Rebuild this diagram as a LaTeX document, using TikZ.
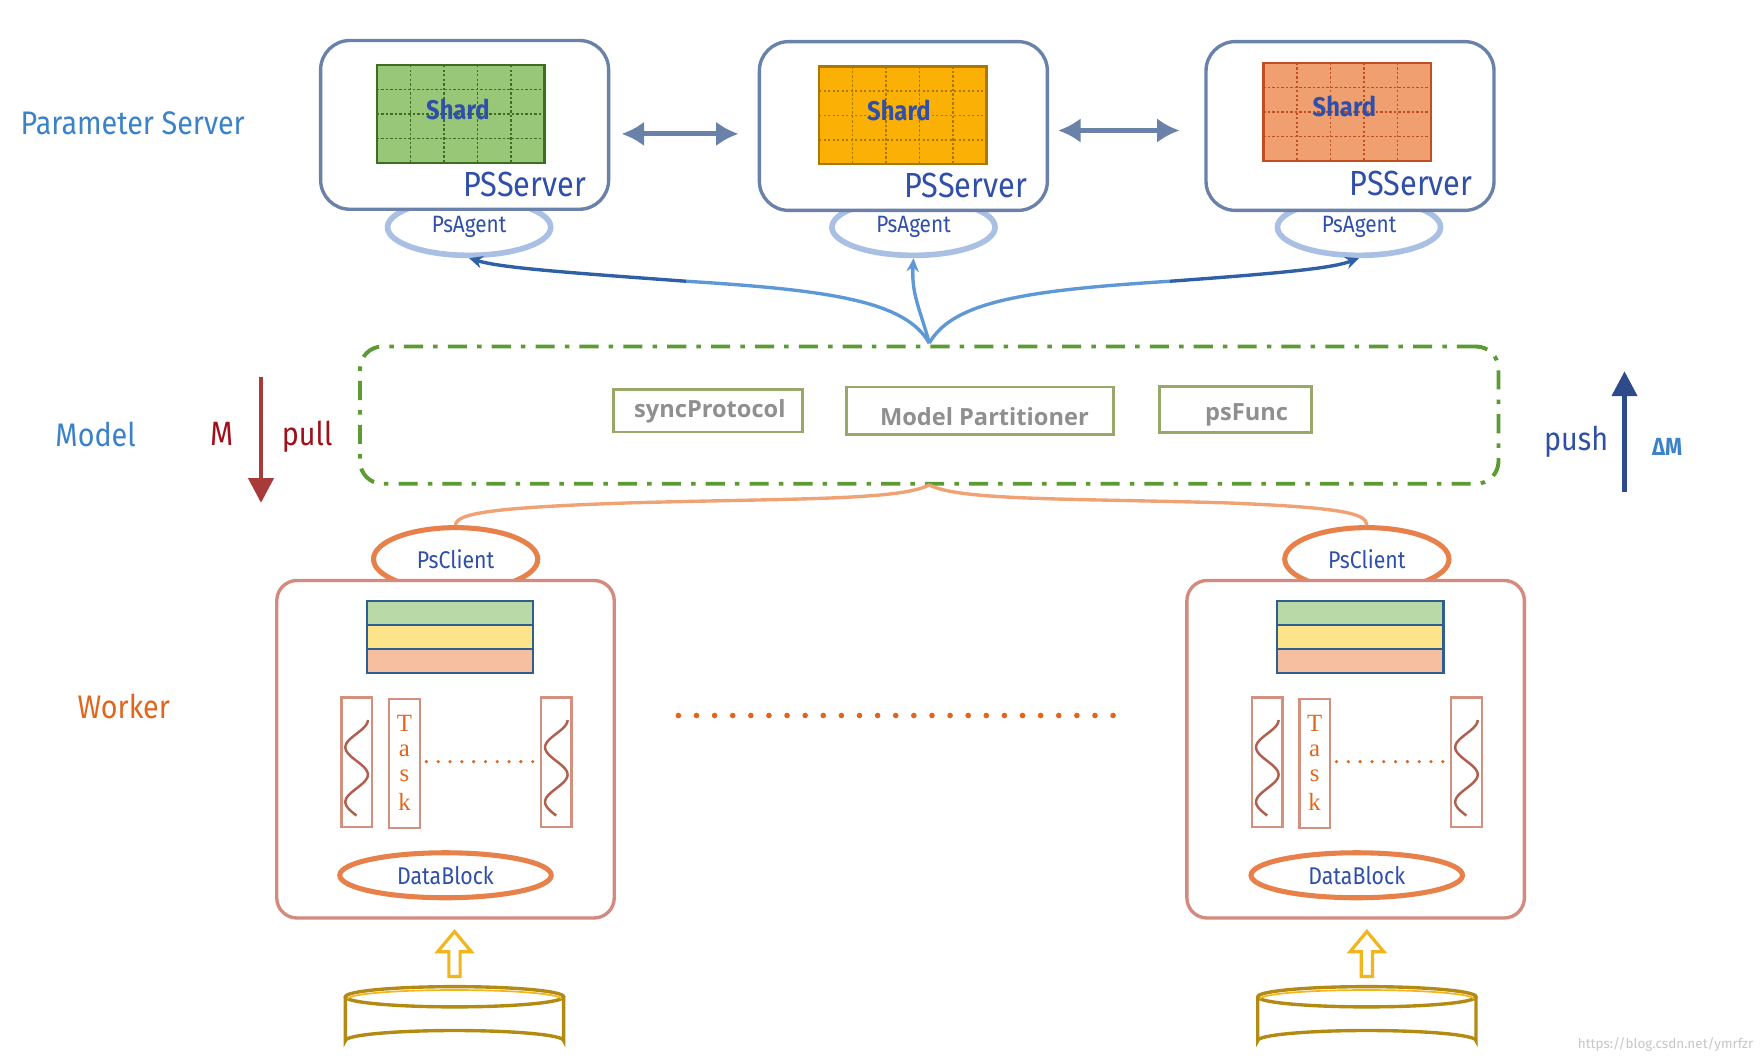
\documentclass[tikz,border=0pt]{standalone}
\usepackage{fontspec}
\setmainfont{Fira Sans}
\newfontfamily\hand[FakeStretch=0.88]{Fira Sans}
\newfontfamily\gb{Open Sans}
\newfontfamily\srf{Liberation Serif}
\usetikzlibrary{arrows.meta,shapes.geometric}
\definecolor{psblue}{HTML}{2F4FA8}
\definecolor{lblue}{HTML}{3B82C8}
\definecolor{boxline}{HTML}{6A82AA}
\definecolor{agentc}{HTML}{A9BFE3}
\definecolor{arrlight}{HTML}{5F98D6}
\definecolor{arrdark}{HTML}{2F5FA4}
\definecolor{modgreen}{HTML}{5C9B34}
\definecolor{innerc}{HTML}{98A86A}
\definecolor{graytxt}{HTML}{8F8F8F}
\definecolor{mred}{HTML}{A0101C}
\definecolor{pullc}{HTML}{A83A3A}
\definecolor{pushc}{HTML}{2D4A8A}
\definecolor{curveo}{HTML}{F0A274}
\definecolor{clientc}{HTML}{E8804A}
\definecolor{workc}{HTML}{D48A7E}
\definecolor{barline}{HTML}{2F5F8F}
\definecolor{barg}{HTML}{B9D9A6}
\definecolor{bary}{HTML}{FDE38A}
\definecolor{baro}{HTML}{F6C0A0}
\definecolor{thrc}{HTML}{D4907E}
\definecolor{wavec}{HTML}{B0604E}
\definecolor{orangetxt}{HTML}{E0661E}
\definecolor{holc}{HTML}{F2B51C}
\definecolor{cylc}{HTML}{B38B12}
\definecolor{sh1}{HTML}{97C777}
\definecolor{sh1b}{HTML}{3E6E22}
\definecolor{sh2}{HTML}{FBB005}
\definecolor{sh2b}{HTML}{A87800}
\definecolor{sh3}{HTML}{F0A070}
\definecolor{sh3b}{HTML}{C04E1E}
\begin{document}
\begin{tikzpicture}[x=1pt,y=-1pt,
  psbox/.style={draw=boxline,line width=3pt,fill=white,rounded corners=26pt,minimum width=256pt,minimum height=150pt},
  agent/.style={ellipse,draw=agentc,line width=5pt,minimum width=145pt,minimum height=50pt,text=psblue,font=\hand\fontsize{21}{24}\selectfont,inner sep=0pt},
  client/.style={ellipse,draw=clientc,line width=4.5pt,minimum width=146pt,minimum height=56pt,text=psblue,font=\hand\fontsize{21.5}{24}\selectfont,inner sep=0pt},
  datab/.style={ellipse,draw=clientc,line width=4.5pt,minimum width=188pt,minimum height=40pt,text=psblue,font=\hand\fontsize{21.5}{24}\selectfont,inner sep=0pt},
  workbox/.style={draw=workc,line width=3pt,fill=white,rounded corners=18pt,minimum width=300pt,minimum height=300pt},
  innerbox/.style={draw=innerc,line width=2.5pt,fill=white},
  graylbl/.style={text=graytxt,font=\gb\bfseries\fontsize{21}{24}\selectfont},
  side/.style={font=\hand\fontsize{29}{34}\selectfont},
  psname/.style={text=psblue,font=\hand\fontsize{31}{36}\selectfont,anchor=east,inner sep=0pt},
  shardtxt/.style={text=psblue,font=\hand\bfseries\fontsize{24}{28}\selectfont},
  dbl/.style={draw=boxline,line width=4.5pt,{Latex[length=20pt,width=22pt]}-{Latex[length=20pt,width=22pt]}},
  upc/.style={-{Stealth[length=12pt,width=11pt]},line width=3pt},
  ocurve/.style={draw=curveo,line width=3pt},
  thr/.style={draw=thrc,line width=2pt,fill=white,minimum width=27pt,minimum height=115pt,inner sep=0pt},
  wave/.style={draw=wavec,line width=2.2pt},
  bar/.style={draw=barline,line width=2pt,minimum width=148pt,minimum height=21.3pt,inner sep=0pt},
  holarrow/.style={draw=holc,line width=2.8pt,fill=white,line join=miter},
  cyl/.style={draw=cylc,line width=3pt}
]
\useasboundingbox[fill=white] (0,0) rectangle (1568,942);

% ---------- labels on left/right ----------
\node[side,text=lblue] (lps) at (118,110) {Parameter Server};
\node[side,text=lblue] (lmodel) at (85,386) {Model};
\node[side,text=orangetxt] (lworker) at (110,628) {Worker};
\node[text=mred,font=\hand\fontsize{30}{34}\selectfont] (lM) at (197,386) {M};
\node[side,text=mred] (lpull) at (273,388) {pull};
\node[side,text=psblue] (lpush) at (1401,393) {push};
\node[text=lblue,font=\hand\bfseries\fontsize{22}{26}\selectfont] (ldm) at (1482,397) {ΔM};
\coordinate (pullA) at (232,335);
\coordinate (pullB) at (232,447);
\draw[draw=pullc,fill=pullc,line width=4pt,-{Triangle[length=22pt,width=22pt]}] (pullA) -- (pullB);
\coordinate (pushA) at (1444,437);
\coordinate (pushB) at (1444,330);
\draw[draw=pushc,fill=pushc,line width=4pt,-{Triangle[length=22pt,width=22pt]}] (pushA) -- (pushB);

% ---------- parameter servers ----------
\node[agent] (ag1) at (417,202) {PsAgent};
\node[agent] (ag2) at (812,202) {PsAgent};
\node[agent] (ag3) at (1208,202) {PsAgent};
\node[psbox] (ps1) at (413,111) {};
\node[psbox] (ps2) at (803,112) {};
\node[psbox] (ps3) at (1200,112) {};

% shards
\foreach \x/\y/\fc/\bc/\nm in {335/58/sh1/sh1b/s1,728/59/sh2/sh2b/s2,1123/56/sh3/sh3b/s3}{
  \draw[fill=\fc,draw=\bc,line width=2.2pt] (\x,\y) rectangle ++(149,87);
  \foreach \i in {1,2,3,4}{\draw[draw=\bc,line width=1.3pt,dash pattern=on 2pt off 2pt] (\x+\i*29.8,\y) -- ++(0,87);}
  \foreach \j in {1,2,3}{\draw[draw=\bc,line width=1.3pt,dash pattern=on 2pt off 2pt] (\x,\y+\j*21.75) -- ++(149,0);}
}
\node[shardtxt] (sh1) at (407,97) {Shard};
\node[shardtxt] (sh2) at (799,98) {Shard};
\node[shardtxt] (sh3) at (1195,95) {Shard};
\node[psname] (pn1) at (521,164) {PSServer};
\node[psname] (pn2) at (913,165) {PSServer};
\node[psname] (pn3) at (1309,163) {PSServer};

\draw[dbl] ([xshift=10pt]ps1.east |- 0,119) coordinate (d1a) -- ([xshift=-17pt]ps2.west |- 0,119) coordinate (d1b);
\draw[dbl] ([xshift=8pt]ps2.east |- 0,116) coordinate (d2a) -- ([xshift=-22pt]ps3.west |- 0,116) coordinate (d2b);

% ---------- model box ----------
\node[draw=modgreen,line width=3.5pt,dash pattern=on 17pt off 9pt on 4pt off 9pt,rounded corners=20pt,minimum width=1012pt,minimum height=122pt] (model) at (826,369) {};
\node[innerbox,minimum width=168pt,minimum height=38pt] (sync) at (629,365) {};
\node[graylbl] at (631,366) {syncProtocol};
\node[innerbox,minimum width=237pt,minimum height=42pt] (mpart) at (871,365) {};
\node[graylbl] at (875,370) {Model Partitioner};
\node[innerbox,minimum width=135pt,minimum height=41pt] (psf) at (1098,364) {};
\node[graylbl] at (1108,369) {psFunc};

% curved arrows to agents
\coordinate (mtop) at (826,305);
\coordinate (mid1) at (610,250);
\coordinate (mid3) at (1040,250);
\draw[arrlight,line width=3pt] (mtop) .. controls (805,268) and (740,258) .. (mid1);
\draw[arrdark,upc] (mid1) .. controls (500,242) and (445,238) .. (ag1.south);
\draw[arrlight,upc] (mtop) .. controls (818,275) and (810,262) .. (ag2.south);
\draw[arrlight,line width=3pt] (mtop) .. controls (847,268) and (912,258) .. (mid3);
\draw[arrdark,upc] (mid3) .. controls (1150,242) and (1185,238) .. (ag3.south);

% ---------- workers ----------
\node[client] (pc1) at (405,497) {PsClient};
\node[client] (pc2) at (1215,497) {PsClient};
\coordinate (mbot) at (826,431);
\coordinate (om1) at (560,447);
\coordinate (om2) at (1090,447);
\draw[ocurve] (mbot) .. controls (800,445) and (700,443) .. (om1) .. controls (440,451) and (405,456) .. (pc1.north);
\draw[ocurve] (mbot) .. controls (852,445) and (950,443) .. (om2) .. controls (1190,451) and (1215,456) .. (pc2.north);
\node[workbox] (w1) at (396,666) {};
\node[workbox] (w2) at (1205,666) {};

\foreach \cx/\tag in {400/a,1209/b}{
  \node[bar,fill=barg] (bg\tag) at (\cx,545) {};
  \node[bar,fill=bary] (by\tag) at (\cx,566.3) {};
  \node[bar,fill=baro] (bo\tag) at (\cx,587.6) {};
}

% threads and tasks
\foreach \tx/\kx/\ux/\tag in {317/359.5/494.5/a,1126.5/1168.5/1303.5/b}{
  \node[thr] (t1\tag) at (\tx,677.5) {};
  \node[thr] (tk\tag) at (\kx,678.5) {};
  \node[thr] (t2\tag) at (\ux,677.5) {};
  \draw[wave] plot[domain=0:1,samples=60,smooth] ({\tx+10*cos(630*\x)},{640+85*\x});
  \draw[wave] plot[domain=0:1,samples=60,smooth] ({\ux+10*cos(630*\x)},{640+85*\x});
  \foreach \ch/\cy in {T/643,a/667,s/690,k/713}{\node[text=orangetxt,font=\srf\fontsize{22}{24}\selectfont,inner sep=0pt] at (\kx,\cy) {\ch};}
}
\draw[orangetxt,line width=3.2pt,line cap=round,dash pattern=on 0pt off 10.5pt] (tka.east |- 0,677) ++(5,0) -- (t2a.west |- 0,677);
\draw[orangetxt,line width=3.2pt,line cap=round,dash pattern=on 0pt off 10.5pt] (tkb.east |- 0,677) ++(5,0) -- (t2b.west |- 0,677);

\node[datab] (db1) at (396,778) {DataBlock};
\node[datab] (db2) at (1206,778) {DataBlock};

% big dotted line
\coordinate (dotA) at (603,636);
\coordinate (dotB) at (990,636);
\draw[orangetxt,line width=5pt,line cap=round,dash pattern=on 0pt off 16.1pt] (dotA) -- (dotB);

% hollow arrows and disks
\foreach \cx/\tag in {404/a,1215/b}{
  \draw[holarrow] (\cx-5,868) -- (\cx-5,846) -- (\cx-15,846) -- (\cx,828) -- (\cx+15,846) -- (\cx+5,846) -- (\cx+5,868) -- cycle;
  \draw[cyl,fill=white] (\cx-97,886) -- (\cx-97,925) arc[start angle=180,end angle=360,x radius=97,y radius=9] -- (\cx+97,886);
  \draw[cyl] (\cx,886) ellipse[x radius=97,y radius=9];
  \draw[holc,line width=1.5pt] (\cx-95,888) arc[start angle=180,end angle=360,x radius=95,y radius=8];
}

\node[text=black!22,font=\fontsize{12}{14}\selectfont,anchor=east] (wm) at (1562,928) {https://blog.csdn.net/ymrfzr};
\end{tikzpicture}
\end{document}
